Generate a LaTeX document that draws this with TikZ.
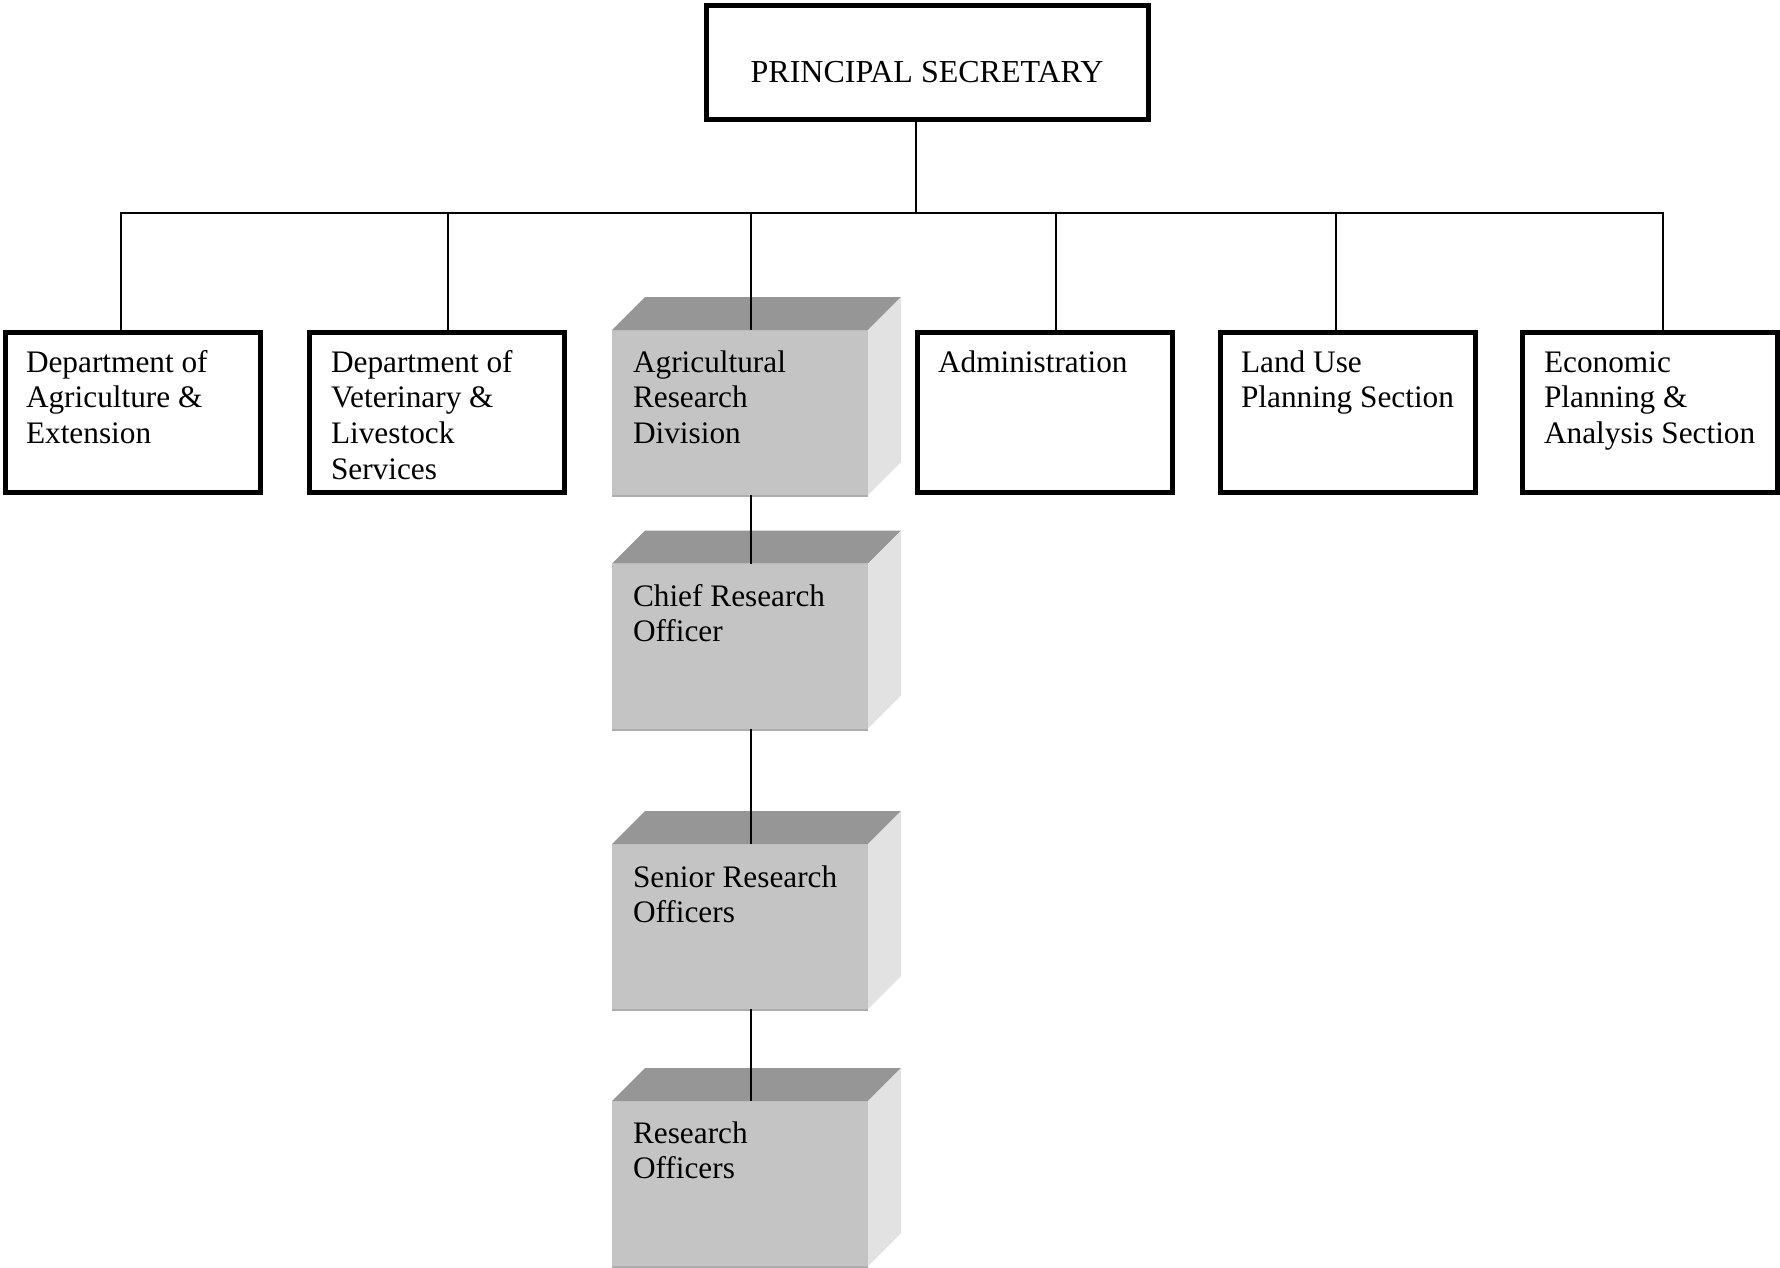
\documentclass[tikz,border=0pt]{standalone}
\usepackage{fontspec}
\setmainfont{Liberation Serif}
\definecolor{topgray}{HTML}{969696}
\definecolor{frontgray}{HTML}{C4C4C4}
\definecolor{sidegray}{HTML}{E2E2E2}
\definecolor{edgegray}{HTML}{ADADAD}
\tikzset{
 plainbox/.style={draw=black, line width=5pt, minimum width=255pt, minimum height=160pt, inner sep=0pt, outer sep=0pt},
 cubefront/.style={fill=frontgray, minimum width=256pt, minimum height=165pt, inner sep=0pt, outer sep=0pt},
 boxtext/.style={anchor=north west, inner sep=0pt, outer sep=0pt, align=left, font=\fontsize{31.3}{35.8}\selectfont},
 conn/.style={line width=1.8pt, black},
}
\newcommand\cubefaces[1]{%
  \fill[topgray] (#1.north west) -- ++(33,-33) -- ([shift={(33,-33)}]#1.north east) -- (#1.north east) -- cycle;
  \fill[sidegray] (#1.north east) -- ++(33,-33) -- ([shift={(33,-33)}]#1.south east) -- (#1.south east) -- cycle;
  \draw[edgegray, line width=2pt] ([yshift=-1pt]#1.south west) -- ([yshift=-1pt]#1.south east);
}
\begin{document}
\begin{tikzpicture}[x=1pt,y=-1pt]
\useasboundingbox (0,0) rectangle (1780,1267);

% top box
\node[plainbox, minimum width=442pt, minimum height=114pt] (ps) at (927,62) {};
\node[anchor=base, inner sep=0pt, font=\fontsize{32}{36}\selectfont] (pst) at (927,82) {PRINCIPAL SECRETARY};

% row of plain boxes
\node[plainbox] (d1) at (132.5,412.5) {};
\node[plainbox] (d2) at (437,412.5) {};
\node[plainbox] (d4) at (1044.5,412.5) {};
\node[plainbox] (d5) at (1347.5,412.5) {};
\node[plainbox] (d6) at (1650,412.5) {};

\node[boxtext] (d1t) at (26,347) {\rule{0pt}{25pt}Department of\\Agriculture \&\\Extension};
\node[boxtext] (d2t) at (331,347) {\rule{0pt}{25pt}Department of\\Veterinary \&\\Livestock\\Services};
\node[boxtext] (d4t) at (938,347) {\rule{0pt}{25pt}Administration};
\node[boxtext] (d5t) at (1241,347) {\rule{0pt}{25pt}Land Use\\Planning Section};
\node[boxtext] (d6t) at (1544,347) {\rule{0pt}{25pt}Economic\\Planning \&\\Analysis Section};

% 3D boxes
\node[cubefront] (ard) at (740,412.5) {};
\cubefaces{ard}
\node[cubefront] (chief) at (740,646) {};
\cubefaces{chief}
\node[cubefront] (senior) at (740,926.5) {};
\cubefaces{senior}
\node[cubefront] (ro) at (740,1183.5) {};
\cubefaces{ro}

\node[boxtext] (ardt) at (633,347) {\rule{0pt}{25pt}Agricultural\\Research\\Division};
\node[boxtext] (chieft) at (633,581) {\rule{0pt}{25pt}Chief Research\\Officer};
\node[boxtext] (seniort) at (633,862) {\rule{0pt}{25pt}Senior Research\\Officers};
\node[boxtext] (rot) at (633,1118) {\rule{0pt}{25pt}Research\\Officers};

% connectors
\coordinate (psdrop) at (916,213);
\coordinate (t1) at (121,213);
\coordinate (t2) at (448,213);
\coordinate (t3) at (751,213);
\coordinate (t4) at (1056,213);
\coordinate (t5) at (1336,213);
\coordinate (t6) at (1663,213);

\draw[conn] (psdrop |- ps.south) -- (psdrop);
\draw[conn] (t1 |- d1.north) -- (t1) -- (t6) -- (t6 |- d6.north);
\draw[conn] (t2) -- (t2 |- d2.north);
\draw[conn] (t4) -- (t4 |- d4.north);
\draw[conn] (t5) -- (t5 |- d5.north);
\draw[conn] (t3) -- (t3 |- ard.north);
\draw[conn] (t3 |- ard.south) -- (t3 |- chief.north);
\draw[conn] (t3 |- chief.south) -- (t3 |- senior.north);
\draw[conn] (t3 |- senior.south) -- (t3 |- ro.north);
\end{tikzpicture}
\end{document}
